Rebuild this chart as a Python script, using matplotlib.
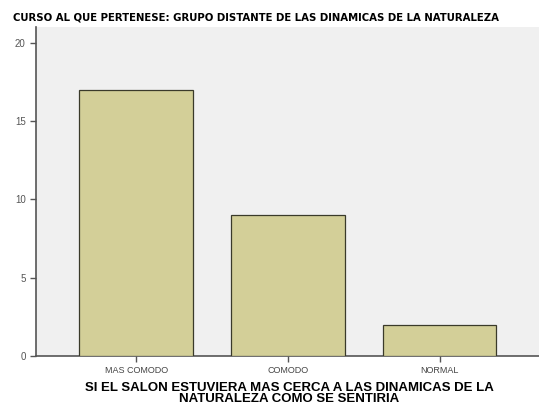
import matplotlib
matplotlib.use("Agg")
import matplotlib.pyplot as plt

categories = ["MAS COMODO", "COMODO", "NORMAL"]
values = [17, 9, 2]
yticks = [0, 5, 10, 15, 20]

fig = plt.figure(figsize=(5.39, 4.07), dpi=100)
ax = fig.add_axes([0.0668, 0.1253, 0.94, 0.8084])
ax.set_facecolor("#f0f0f0")
x = list(range(len(categories)))
ax.bar(x, values, width=0.75, color="#d3cf98", edgecolor="#3a3a2a", linewidth=0.9, zorder=3)
ax.set_xlim(-0.66, 2.68)
ax.set_ylim(0, 21)
ax.set_yticks(yticks)
ax.set_yticklabels([str(v) for v in yticks], fontsize=7, color="#555555", fontfamily="Liberation Sans")
ax.set_xticks(x)
ax.set_xticklabels(categories, fontsize=6.5, color="#444444", fontfamily="Liberation Sans")
ax.tick_params(axis="both", length=4, width=1, color="#555555")
for s in ["top", "right"]:
    ax.spines[s].set_visible(False)
for s in ["left", "bottom"]:
    ax.spines[s].set_color("#555555")
    ax.spines[s].set_linewidth(1.2)
ax.set_xlabel("SI EL SALON ESTUVIERA MAS CERCA A LAS DINAMICAS DE LA\nNATURALEZA COMO SE SENTIRIA",
              fontsize=9.5, fontweight="bold", fontfamily="Liberation Sans", linespacing=0.9, labelpad=5)
fig.text(0.024, 0.956, "CURSO AL QUE PERTENESE: GRUPO DISTANTE DE LAS DINAMICAS DE LA NATURALEZA",
         fontsize=8.1, fontweight="bold", fontfamily="DejaVu Sans", fontstretch="condensed",
         ha="left", va="center")
fig.savefig("out.png", dpi=100)
